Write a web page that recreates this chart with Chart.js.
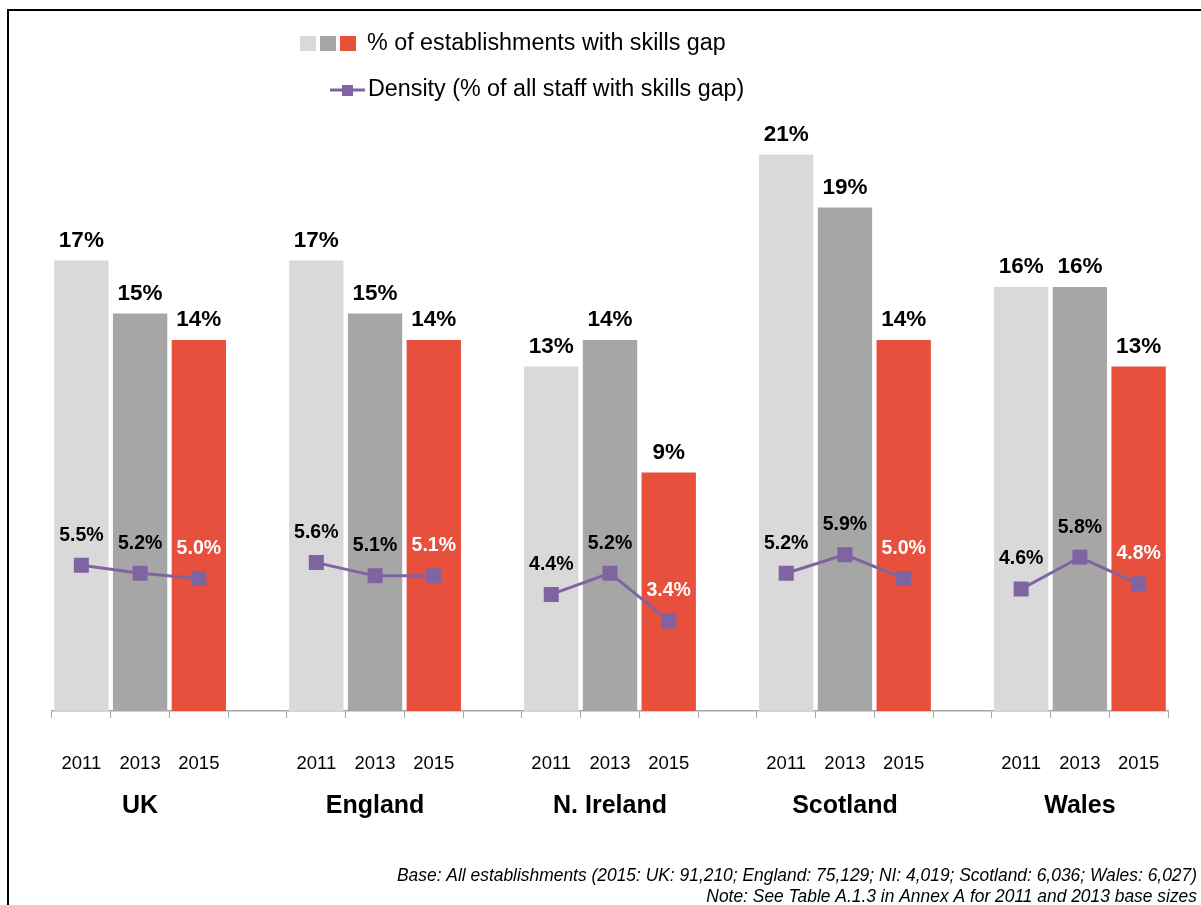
<!DOCTYPE html>
<html>
<head>
<meta charset="utf-8">
<title>Skills gaps by nation</title>
<script src="https://cdn.jsdelivr.net/npm/chart.js@4"></script>
<style>
  html, body { margin: 0; padding: 0; background: #fff; }
  #wrap { position: relative; width: 1201px; height: 905px; }
</style>
</head>
<body>
<div id="wrap"><canvas id="myChart" width="1201" height="905"></canvas></div>
<script>
// groups and survey years
const nations = ['UK', 'England', 'N. Ireland', 'Scotland', 'Wales'];
const years = ['2011', '2013', '2015'];

// % of establishments with a skills gap
const estab2011 = [17, 17, 13, 21, 16];
const estab2013 = [15, 15, 14, 19, 16];
const estab2015 = [14, 14, 9, 14, 13];

// density: % of all staff with a skills gap
const density2011 = [5.5, 5.6, 4.4, 5.2, 4.6];
const density2013 = [5.2, 5.1, 5.2, 5.9, 5.8];
const density2015 = [5.0, 5.1, 3.4, 5.0, 4.8];

const yearColors = ['#d9d9d9', '#a6a6a6', '#e8503e'];
const lineColor = '#8064a2';
const FONT = "'Liberation Sans', Arial, sans-serif";

// one slot per bar, with an empty slot between nations
let labels = [], barValues = [], barColors = [], lineValues = [], yearIdx = [];
nations.forEach((n, i) => {
  const e = [estab2011[i], estab2013[i], estab2015[i]];
  const d = [density2011[i], density2013[i], density2015[i]];
  years.forEach((y, j) => {
    labels.push(y);
    barValues.push(e[j]);
    barColors.push(yearColors[j]);
    lineValues.push(d[j]);
    yearIdx.push(j);
  });
  if (i < nations.length - 1) {
    labels.push('');
    barValues.push(null);
    barColors.push('transparent');
    lineValues.push(null);
    yearIdx.push(-1);
  }
});

const extras = {
  id: 'extras',
  afterDatasetsDraw(chart) {
    const ctx = chart.ctx;
    const x = chart.scales.x;
    ctx.save();
    ctx.textAlign = 'center';
    ctx.textBaseline = 'middle';

    // bar values
    ctx.font = 'bold 22.5px ' + FONT;
    ctx.fillStyle = '#000';
    chart.getDatasetMeta(0).data.forEach((el, i) => {
      if (barValues[i] == null) return;
      ctx.fillText(barValues[i] + '%', el.x, el.y - 20);
    });

    // density values
    ctx.font = 'bold 19.5px ' + FONT;
    chart.getDatasetMeta(1).data.forEach((el, i) => {
      if (lineValues[i] == null) return;
      ctx.fillStyle = yearIdx[i] === 2 ? '#fff' : '#000';
      ctx.fillText(lineValues[i].toFixed(1) + '%', el.x, el.y - 30);
    });

    // nation names under the middle year
    ctx.font = 'bold 25px ' + FONT;
    ctx.fillStyle = '#000';
    nations.forEach((n, i) => {
      ctx.fillText(n, x.getPixelForValue(i * 4 + 1), 806);
    });

    // legend
    yearColors.forEach((c, j) => {
      ctx.fillStyle = c;
      ctx.fillRect(300 + j * 20, 36, 16, 15);
    });
    ctx.textAlign = 'left';
    ctx.fillStyle = '#000';
    ctx.font = '23.3px ' + FONT;
    ctx.fillText('% of establishments with skills gap', 367, 44);
    ctx.strokeStyle = lineColor;
    ctx.lineWidth = 3;
    ctx.beginPath();
    ctx.moveTo(330, 90);
    ctx.lineTo(365, 90);
    ctx.stroke();
    ctx.fillStyle = lineColor;
    ctx.fillRect(342, 85, 11, 11);
    ctx.fillStyle = '#000';
    ctx.fillText('Density (% of all staff with skills gap)', 368, 90);

    // base note, squeezed to a narrow width
    ctx.textAlign = 'right';
    ctx.font = "italic 18px 'Liberation Sans Narrow', " + FONT;
    const note1 = 'Base: All establishments (2015: UK: 91,210; England: 75,129; NI: 4,019; Scotland: 6,036; Wales: 6,027)';
    const note2 = 'Note: See Table A.1.3 in Annex A for 2011 and 2013 base sizes';
    const w = ctx.measureText(note1).width;
    const sx = Math.min(1, 800 / w);
    ctx.save();
    ctx.translate(1197, 0);
    ctx.scale(sx, 1);
    ctx.fillText(note1, 0, 876);
    ctx.fillText(note2, 0, 897);
    ctx.restore();

    // frame
    ctx.strokeStyle = '#000';
    ctx.lineWidth = 2;
    ctx.strokeRect(8, 10, 1300, 1000);
    ctx.restore();
  }
};

new Chart(document.getElementById('myChart'), {
  data: {
    labels: labels,
    datasets: [
      {
        type: 'bar',
        label: '% of establishments with skills gap',
        data: barValues,
        backgroundColor: barColors,
        categoryPercentage: 1,
        barPercentage: 0.925,
        order: 1
      },
      {
        type: 'line',
        label: 'Density (% of all staff with skills gap)',
        data: lineValues,
        borderColor: lineColor,
        backgroundColor: lineColor,
        borderWidth: 3,
        pointStyle: 'rect',
        pointRadius: 8.5,
        pointHoverRadius: 8.5,
        spanGaps: false,
        order: 0
      }
    ]
  },
  options: {
    responsive: false,
    animation: false,
    layout: { padding: { top: 128, left: 52, right: 33, bottom: 0 } },
    plugins: {
      legend: { display: false },
      tooltip: { enabled: false }
    },
    scales: {
      x: {
        offset: true,
        grid: { offset: true, drawOnChartArea: false, tickLength: 7, color: '#a6a6a6' },
        border: { color: '#a6a6a6', width: 1.5 },
        ticks: { color: '#000', font: { family: FONT, size: 18.5 }, padding: 35, maxRotation: 0, autoSkip: false },
        afterFit(scale) { scale.height = 194; }
      },
      y: {
        display: false,
        min: 0,
        max: 22
      }
    }
  },
  plugins: [extras]
});
</script>
</body>
</html>
